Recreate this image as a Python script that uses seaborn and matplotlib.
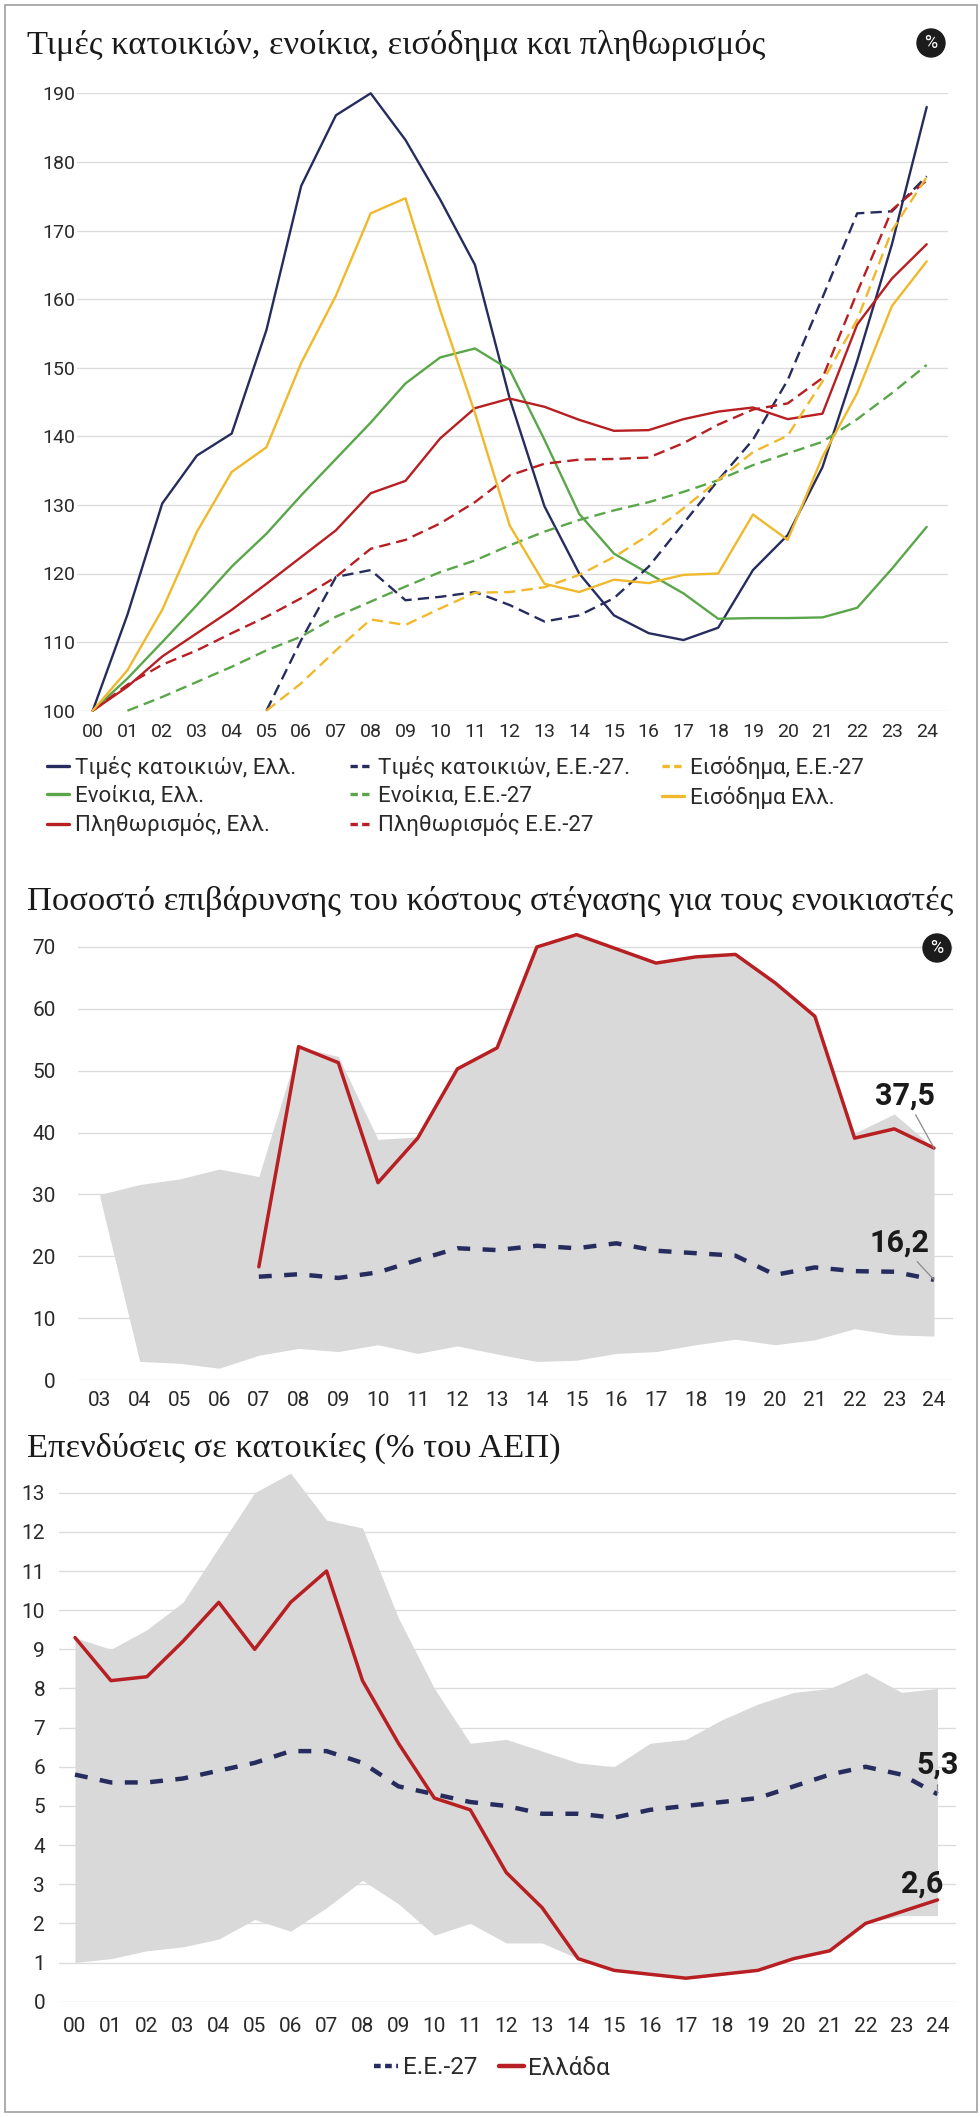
import numpy as np
import pandas as pd
import matplotlib
matplotlib.use("Agg")
import matplotlib.pyplot as plt
import seaborn as sns
from matplotlib.lines import Line2D
from matplotlib.patches import Rectangle, Ellipse

# --- Δεδομένα ---
# Γράφημα 1: δείκτες (2000 = 100)
years1 = list(range(0, 25))
gr_prices = [100, 114, 130.2, 137.2, 140.4, 155.5, 176.5, 186.8, 190, 183.2, 174.5, 165, 145.5,
             129.8, 120, 113.9, 111.3, 110.3, 112.1, 120.5, 125.6, 135.5, 151, 168, 188]
eu_prices = [None] * 5 + [100, 110.3, 119.5, 120.5, 116.1, 116.6, 117.3, 115.4, 113, 113.9, 116.4,
                          121, 127.3, 133.6, 139.5, 148.2, 160.2, 172.5, 172.8, 177.9]
eu_income = [None] * 5 + [100, 104, 108.8, 113.3, 112.5, 114.9, 117.2, 117.3, 118, 119.8, 122.4,
                          125.6, 129.5, 133.6, 137.7, 140.1, 148, 157, 170, 177.8]
gr_rents = [100, 104.7, 110, 115.4, 121, 125.8, 131.4, 136.7, 142, 147.7, 151.5, 152.8, 149.7,
            139.5, 128.7, 122.9, 120, 117.1, 113.4, 113.5, 113.5, 113.6, 115, 120.7, 126.8]
eu_rents = [None] + [100, 102, 104.2, 106.4, 108.8, 110.8, 113.7, 115.9, 118.1, 120.2, 121.9, 124.1,
                     126.1, 127.8, 129.2, 130.4, 131.9, 133.6, 135.8, 137.5, 139.2, 142.5, 146.3, 150.4]
gr_income = [100, 105.9, 114.7, 126.1, 134.8, 138.4, 150.7, 160.5, 172.5, 174.7, 158.4, 143.4, 127,
             118.5, 117.3, 119.1, 118.6, 119.8, 120, 128.6, 124.9, 137, 146.3, 159, 165.5]
gr_infl = [100, 103.5, 107.9, 111.3, 114.7, 118.5, 122.4, 126.3, 131.7, 133.5, 139.7, 144.1, 145.5,
           144.3, 142.4, 140.8, 140.9, 142.5, 143.6, 144.2, 142.5, 143.3, 156.3, 163, 168]
eu_infl = [100, 103.8, 106.7, 108.8, 111.3, 113.7, 116.4, 119.5, 123.6, 124.9, 127.3, 130.4, 134.3,
           136, 136.6, 136.7, 136.9, 139, 141.7, 143.9, 144.8, 148.5, 161, 173, 177.3]

# Γράφημα 2: επιβάρυνση κόστους στέγασης (%)
years2 = list(range(3, 25))
years2_lines = list(range(7, 25))
gr_burden = [18.3, 53.9, 51.3, 31.9, 39.1, 50.3, 53.7, 70, 72, 69.7, 67.4, 68.4, 68.8, 64.2, 58.8,
             39.1, 40.6, 37.5]
eu_burden = [16.7, 17.1, 16.5, 17.4, 19.4, 21.3, 21, 21.7, 21.3, 22.1, 20.9, 20.5, 20.1, 17, 18.2,
             17.6, 17.5, 16.2]
burden_hi = [30, 31.6, 32.5, 34.1, 32.9, 53.9, 52.3, 38.9, 39.3, 50.3, 53.7, 70, 72, 69.7, 67.4,
             68.4, 68.8, 64.2, 58.8, 39.9, 43, 37.5]
burden_lo = [29.5, 3, 2.7, 1.9, 4, 5.1, 4.6, 5.7, 4.3, 5.5, 4.2, 3, 3.2, 4.3, 4.6, 5.7, 6.6, 5.7,
             6.5, 8.3, 7.3, 7.1]

# Γράφημα 3: επενδύσεις σε κατοικίες (% ΑΕΠ)
years3 = list(range(0, 25))
gr_inv = [9.3, 8.2, 8.3, 9.2, 10.2, 9.0, 10.2, 11.0, 8.2, 6.6, 5.2, 4.9, 3.3, 2.4, 1.1, 0.8, 0.7,
          0.6, 0.7, 0.8, 1.1, 1.3, 2.0, 2.3, 2.6]
eu_inv = [5.8, 5.6, 5.6, 5.7, 5.9, 6.1, 6.4, 6.4, 6.1, 5.5, 5.3, 5.1, 5.0, 4.8, 4.8, 4.7, 4.9, 5.0,
          5.1, 5.2, 5.5, 5.8, 6.0, 5.8, 5.3]
inv_hi = [9.3, 9.0, 9.5, 10.2, 11.6, 13.0, 13.5, 12.3, 12.1, 9.8, 8.0, 6.6, 6.7, 6.4, 6.1, 6.0, 6.6,
          6.7, 7.2, 7.6, 7.9, 8.0, 8.4, 7.9, 8.0]
inv_lo = [1.0, 1.1, 1.3, 1.4, 1.6, 2.1, 1.8, 2.4, 3.1, 2.5, 1.7, 2.0, 1.5, 1.5, 1.1, 0.8, 0.7, 0.6,
          0.7, 0.8, 1.1, 1.3, 2.0, 2.2, 2.2]

# --- Στυλ ---
sns.set_style("white")
plt.rcParams["font.family"] = ["Roboto", "DejaVu Sans"]
SERIF = ["Liberation Serif", "DejaVu Serif"]

NAVY = "#262d5e"
YELLOW = "#f0b92c"
GREEN = "#5aa64a"
RED = "#b71f22"
BAND = "#d9d9d9"
GRID = "#dcdcdc"
TXT = "#2a2a2a"

W, H = 980, 2117
fig = plt.figure(figsize=(W / 100, H / 100), dpi=100)
fig.patch.set_facecolor("white")


def fx(x):
    return x / W


def fy(y):
    return 1 - y / H


def make_ax(x_px, x_val, y_px, y_val, xlim, ylim):
    # θέση αξόνων από pixel της εικόνας
    sx = (x_px[1] - x_px[0]) / (x_val[1] - x_val[0])
    sy = (y_px[1] - y_px[0]) / (y_val[1] - y_val[0])
    left = x_px[0] + (xlim[0] - x_val[0]) * sx
    right = x_px[0] + (xlim[1] - x_val[0]) * sx
    bottom = y_px[0] + (ylim[0] - y_val[0]) * sy
    top = y_px[0] + (ylim[1] - y_val[0]) * sy
    ax = fig.add_axes([left / W, 1 - bottom / H, (right - left) / W, (bottom - top) / H])
    ax.set_xlim(*xlim)
    ax.set_ylim(*ylim)
    sns.despine(ax=ax, left=True, bottom=True)
    ax.set_axisbelow(True)
    ax.grid(axis="y", color=GRID, lw=1.0)
    ax.grid(axis="x", visible=False)
    return ax


def series(xs, ys):
    return pd.DataFrame({"x": xs, "y": ys}).dropna()


def pct_icon(x, y):
    fig.add_artist(Ellipse((fx(x), fy(y)), 28 / W, 28 / H, transform=fig.transFigure,
                           color="#1c1c1c", zorder=10))
    fig.text(fx(x), fy(y), "%", color="white", fontsize=13, ha="center", va="center", zorder=11)


# περίγραμμα
fig.add_artist(Rectangle((fx(5), fy(2112)), 972 / W, 2107 / H, transform=fig.transFigure,
                         fill=False, ec="#a0a0a0", lw=1.2))

# --- Γράφημα 1 ---
fig.text(fx(27), fy(54), "Τιμές κατοικιών, ενοίκια, εισόδημα και πληθωρισμός",
         fontsize=24.8, family=SERIF, color="#1a1a1a", va="baseline")
pct_icon(931, 43)

ax1 = make_ax((92.7, 926.7), (0, 24), (710.7, 93.3), (100, 190), (-0.45, 24.61), (100, 190))
dash1 = (0, (4.8, 2.6))
specs1 = [
    (gr_prices, NAVY, "-", "Τιμές κατοικιών, Ελλ."),
    (gr_rents, GREEN, "-", "Ενοίκια, Ελλ."),
    (gr_infl, RED, "-", "Πληθωρισμός, Ελλ."),
    (eu_prices, NAVY, dash1, "Τιμές κατοικιών, Ε.Ε.-27."),
    (eu_rents, GREEN, dash1, "Ενοίκια, Ε.Ε.-27"),
    (eu_infl, RED, dash1, "Πληθωρισμός Ε.Ε.-27"),
    (eu_income, YELLOW, dash1, "Εισόδημα, Ε.Ε.-27"),
    (gr_income, YELLOW, "-", "Εισόδημα Ελλ."),
]
for vals, col, ls, lab in specs1:
    d = series(years1, vals)
    sns.lineplot(data=d, x="x", y="y", ax=ax1, color=col, linestyle=ls, lw=1.7,
                 errorbar=None, clip_on=False)
ax1.set_yticks(range(100, 191, 10))
ax1.set_xticks(years1)
ax1.set_xticklabels([f"{y:02d}" for y in years1])
ax1.tick_params(axis="y", length=0, pad=1.5, labelsize=14, labelcolor=TXT)
ax1.tick_params(axis="x", length=0, pad=9, labelsize=14, labelcolor=TXT)
ax1.set_xlabel("")
ax1.set_ylabel("")

# υπόμνημα σε τρεις στήλες
columns = [(47, [0, 1, 2]), (350, [3, 4, 5]), (662, [6, 7])]
for xpos, idx in columns:
    handles = []
    labels = []
    for i in idx:
        vals, col, ls, lab = specs1[i]
        if ls == "-":
            h = Line2D([], [], color=col, lw=2.4)
        else:
            h = Line2D([], [], color=col, lw=2.4, linestyle=(0, (2.2, 1.3)))
        handles.append(h)
        labels.append(lab)
    fig.legend(handles, labels, loc="upper left", bbox_to_anchor=(fx(xpos), fy(756)),
               frameon=False, fontsize=16, handlelength=1.0, handletextpad=0.25,
               borderpad=0, borderaxespad=0, labelspacing=0.3, labelcolor=TXT)

# --- Γράφημα 2 ---
fig.text(fx(27), fy(910), "Ποσοστό επιβάρυνσης του κόστους στέγασης για τους ενοικιαστές",
         fontsize=24.8, family=SERIF, color="#1a1a1a", va="baseline")
ax2 = make_ax((100, 934), (3, 24), (1380, 947), (0, 70), (2.446, 24.49), (0, 76))
pct_icon(937, 948)
ax2.fill_between(years2, burden_lo, burden_hi, color=BAND, lw=0, zorder=1)
sns.lineplot(x=years2_lines, y=gr_burden, ax=ax2, color=RED, lw=2.5, errorbar=None, zorder=3)
sns.lineplot(x=years2_lines, y=eu_burden, ax=ax2, color=NAVY, lw=3.2,
             linestyle=(0, (2.9, 2.8)), errorbar=None, zorder=3)
ax2.set_yticks(range(0, 71, 10))
ax2.set_xticks(years2)
ax2.set_xticklabels([f"{y:02d}" for y in years2])
ax2.tick_params(axis="y", length=0, pad=16, labelsize=15, labelcolor=TXT)
ax2.tick_params(axis="x", length=0, pad=8, labelsize=15, labelcolor=TXT)
ax2.set_xlabel("")
ax2.set_ylabel("")

arrow_kw = dict(arrowstyle="-", color="#8a8a8a", lw=0.9, shrinkA=1, shrinkB=0)
ax2.annotate("37,5", xy=(24, gr_burden[-1]), xytext=(-21, 38), textcoords="offset points",
             fontsize=22, fontweight="bold", color="#1a1a1a", ha="center", va="center",
             arrowprops=arrow_kw)
ax2.annotate("16,2", xy=(24, eu_burden[-1]), xytext=(-25, 27), textcoords="offset points",
             fontsize=22, fontweight="bold", color="#1a1a1a", ha="center", va="center",
             arrowprops=arrow_kw)

# --- Γράφημα 3 ---
fig.text(fx(27), fy(1457), "Επενδύσεις σε κατοικίες (% του ΑΕΠ)",
         fontsize=24.8, family=SERIF, color="#1a1a1a", va="baseline")
ax3 = make_ax((75, 937.5), (0, 24), (2001.7, 1492.7), (0, 13), (-0.445, 24.51), (0, 13.8))
ax3.fill_between(years3, inv_lo, inv_hi, color=BAND, lw=0, zorder=1)
sns.lineplot(x=years3, y=eu_inv, ax=ax3, color=NAVY, lw=3.2, linestyle=(0, (2.9, 2.8)),
             errorbar=None, zorder=3, label="Ε.Ε.-27")
sns.lineplot(x=years3, y=gr_inv, ax=ax3, color=RED, lw=2.5, errorbar=None, zorder=3,
             label="Ελλάδα")
ax3.set_yticks(range(0, 14))
ax3.set_xticks(years3)
ax3.set_xticklabels([f"{y:02d}" for y in years3])
ax3.tick_params(axis="y", length=0, pad=10, labelsize=15, labelcolor=TXT)
ax3.tick_params(axis="x", length=0, pad=11, labelsize=15, labelcolor=TXT)
ax3.set_xlabel("")
ax3.set_ylabel("")

ax3.annotate("5,3", xy=(24, eu_inv[-1]), xytext=(0, 21), textcoords="offset points",
             fontsize=22, fontweight="bold", color="#1a1a1a", ha="center", va="center",
             arrowprops=arrow_kw)
ax3.annotate("2,6", xy=(24, gr_inv[-1]), xytext=(-11, 12), textcoords="offset points",
             fontsize=22, fontweight="bold", color="#1a1a1a", ha="center", va="center")

ax3.get_legend().remove()
h3 = [Line2D([], [], color=NAVY, lw=3.2, linestyle=(0, (1.5, 1.0))),
      Line2D([], [], color=RED, lw=3.2)]
fig.legend(h3, ["Ε.Ε.-27", "Ελλάδα"], loc="center", bbox_to_anchor=(fx(492), fy(2068)),
           ncol=2, frameon=False, fontsize=17.5, handlelength=1.0, handletextpad=0.2,
           columnspacing=0.9, borderpad=0, labelcolor=TXT)

fig.savefig("out.png", dpi=100, facecolor="white")
